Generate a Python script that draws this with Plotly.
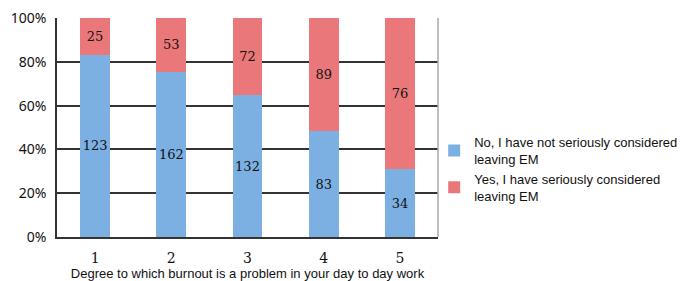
import plotly.graph_objects as go

categories = ["1", "2", "3", "4", "5"]
no_counts = [123, 162, 132, 83, 34]
yes_counts = [25, 53, 72, 89, 76]
y_ticks = [0, 20, 40, 60, 80, 100]
y_tick_labels = ["0%", "20%", "40%", "60%", "80%", "100%"]

totals = [a + b for a, b in zip(no_counts, yes_counts)]
no_pct = [a / t * 100 for a, t in zip(no_counts, totals)]
yes_pct = [b / t * 100 for b, t in zip(yes_counts, totals)]

label_font = dict(family="DejaVu Serif", size=13, color="#111")

fig = go.Figure()
fig.add_trace(go.Bar(
    x=categories, y=no_pct, text=[str(v) for v in no_counts],
    name="No, I have not seriously considered<br>leaving EM",
    marker=dict(color="#7db0e2", line=dict(width=0)),
    textposition="inside", insidetextanchor="middle", textangle=0,
    constraintext="none",
    textfont=label_font, width=0.39,
))
fig.add_trace(go.Bar(
    x=categories, y=yes_pct, text=[str(v) for v in yes_counts],
    name="Yes, I have seriously considered<br>leaving EM",
    marker=dict(color="#ea787a", line=dict(width=0)),
    textposition="inside", insidetextanchor="middle", textangle=0,
    constraintext="none",
    textfont=label_font, width=0.39,
))

fig.update_layout(
    barmode="stack",
    width=686, height=281,
    margin=dict(l=57, r=248, t=18, b=44, autoexpand=False),
    plot_bgcolor="white", paper_bgcolor="white",
    showlegend=True,
    legend=dict(x=0.99, xanchor="left", y=0.31, yanchor="middle",
                traceorder="normal",
                font=dict(family="Liberation Sans", size=13, color="#111"),
                tracegroupgap=2, itemwidth=30, bgcolor="rgba(0,0,0,0)"),
    xaxis=dict(
        automargin=False,
        showline=True, linecolor="#333", linewidth=1.5,
        ticks="", tickfont=dict(family="DejaVu Serif", size=14, color="#111"),
        title=dict(text="Degree to which burnout is a problem in your day to day work",
                   font=dict(family="Liberation Sans", size=13, color="#111"),
                   standoff=0),
        ticklabelstandoff=7,
    ),
    yaxis=dict(
        automargin=False,
        range=[0, 100], tickvals=y_ticks, ticktext=y_tick_labels,
        showgrid=True, gridcolor="#333", gridwidth=1.5,
        showline=True, linecolor="#333", linewidth=1.5,
        tickfont=dict(family="Noto Sans", size=14, color="#111"),
        ticks="", ticklabelstandoff=6,
        zeroline=False,
    ),
)
fig.add_shape(type="line", xref="paper", yref="paper", x0=1, x1=1, y0=0, y1=1,
              line=dict(color="#aaa", width=1.5))

fig.write_html("out.html", config={"displayModeBar": False},
               post_script="document.body.style.margin='0';")
